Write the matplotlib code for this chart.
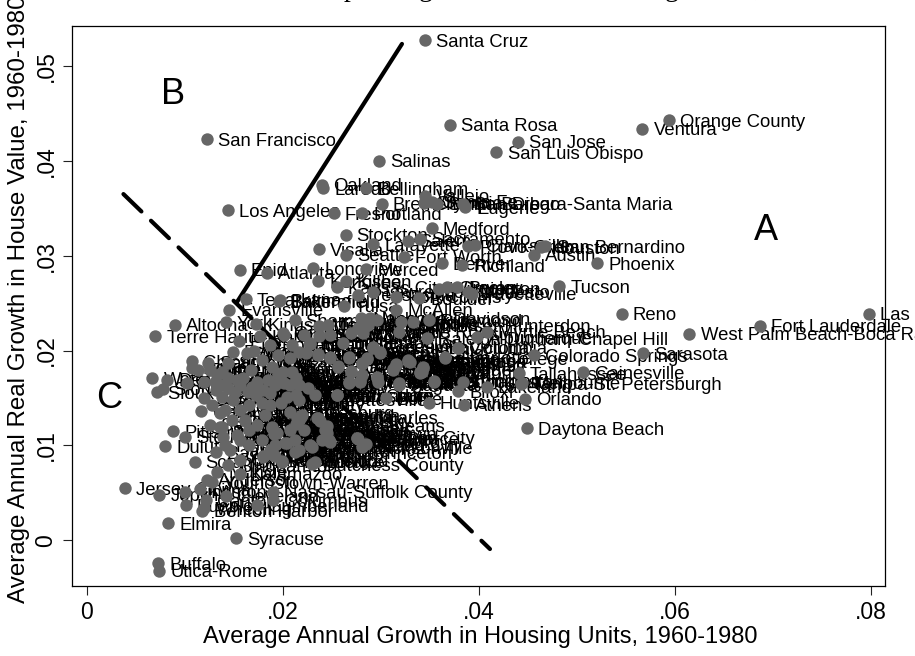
"""Real house value growth against housing unit growth by metro area, 1960-1980."""
import matplotlib
matplotlib.use("Agg")
import matplotlib.pyplot as plt

plt.rcParams["font.family"] = ["Liberation Sans", "DejaVu Sans"]

MSA_NAMES = [
    "Santa Cruz", "Orange County", "Ventura", "Santa Rosa", "San Jose", "San Luis Obispo",
    "San Francisco", "Salinas", "Oakland", "Laredo", "Bellingham", "Los Angeles",
    "Fresno", "Portland", "Bremerton", "Vallejo", "Olympia", "Santa Fe",
    "Santa Barbara-Santa Maria", "San Diego", "Eugene", "Medford", "Stockton", "Visalia",
    "Lafayette", "Seattle", "Fort Worth", "Salem", "Sacramento", "Denver",
    "Richland", "Provo-Orem", "Clarksville", "San Bernardino", "Houston", "Austin",
    "Phoenix", "Tucson", "Reno", "Las Vegas", "Fort Lauderdale", "West Palm Beach-Boca Raton",
    "Sarasota", "Colorado Springs", "Raleigh-Durham-Chapel Hill", "Gainesville", "Tallahassee", "Tampa-St. Petersburgh",
    "Orlando", "Daytona Beach", "Lakeland", "Athens", "Huntsville", "Melbourne",
    "Enid", "Atlanta", "Longview", "Merced", "Kenosha", "Kansas City",
    "Killeen", "Pensacola", "Lawrence", "Fort Collins", "Boulder", "Wilmington",
    "Greeley", "Bryan", "Fayetteville", "Modesto", "Texarkana", "Baltimore",
    "Bakersfield", "Tulsa", "McAllen", "Evansville", "York", "Altoona",
    "Terre Haute", "Kingsport", "Sherman", "Temple", "Nashville-Davidson", "Macon",
    "Newark", "Norfolk", "Mobile", "Richmond", "Middlesex-Somerset-Hunterdon", "Myrtle Beach",
    "Albuquerque", "Columbia", "Little Rock", "Greenville", "Wichita", "Charlotte",
    "Omaha", "Des Moines", "Fort Wayne", "Indianapolis", "Lexington", "Madison",
    "Lincoln", "Minneapolis", "Rochester", "Peoria", "Springfield", "Rockford",
    "Toledo", "Grand Rapids", "Milwaukee", "Cincinnati", "Louisville", "Birmingham",
    "Memphis", "Shreveport", "Baton Rouge", "Corpus Christi", "Savannah", "Tyler",
    "Waco", "Amarillo", "Lubbock", "Charleston", "Biloxi", "Harrisburg",
    "Boise", "Lansing", "Albany", "New Orleans", "Jacksonville", "Dutchess County",
    "Trenton-Princeton", "Johnson City", "Kalamazoo", "Youngstown-Warren", "Nassau-Suffolk County", "Columbus",
    "Benton Harbor", "Cumberland", "Cleveland", "Joplin", "Jersey City", "Kingston",
    "Pueblo", "Lima", "Anderson", "Muncie", "Canton", "Wheeling",
    "Worcester", "Lowell", "Providence", "Binghamton", "Elmira", "Syracuse",
    "Buffalo", "Utica-Rome", "Scranton", "Duluth", "Pittsburgh", "Steubenville",
    "Waterloo", "Sioux City", "Sioux Falls", "Decatur", "Chicago", "Detroit",
    "Flint", "Saginaw", "St. Louis", "Dayton", "Akron", "Philadelphia",
    "Erie", "Kankakee", "Green Bay", "Hamilton", "Reading", "Harrisonburg",
    "Davenport", "Dubuque", "Jackson", "Lancaster", "Bloomington", "Champaign",
    "Allentown", "Johnstown", "Cedar Rapids", "Muskegon", "Racine", "South Bend",
    "Kokomo", "Pittsfield", "New Haven", "Hartford", "Boston", "Bridgeport",
    "Stamford", "Danbury", "New London", "Tuscaloosa", "Montgomery", "Augusta",
    "Chattanooga", "Beaumont", "Vineland", "Atlantic City", "Monroe", "Alexandria",
    "Lake Charles", "Hagerstown", "Parkersburg", "Sharon", "Poughkeepsie", "Williamsport",
    "Mansfield", "Owensboro", "Sheboygan", "Appleton", "Gary", "Bay City",
    "Janesville", "Oshkosh", "Pine Bluff",
    "Abilene", "Anchorage", "Anniston", "Asheville", "Battle Creek", "Bangor",
    "Billings", "Bismarck", "Burlington", "Brownsville", "Casper", "Cheyenne",
    "Danville", "Dothan", "El Paso", "Elkhart", "Fargo", "Fall River",
    "Fitchburg", "Florence", "Fort Smith", "Gadsden", "Galveston", "Glens Falls",
    "Goldsboro", "Great Falls", "Greensboro", "Hickory", "Honolulu", "Houma",
    "Iowa City", "Jamestown", "Joliet", "La Crosse", "Lawton", "Lewiston",
    "Lynchburg", "Manchester", "Miami", "Midland", "Monmouth", "Nashua",
    "New Bedford", "New Britain", "Norwalk", "Odessa", "Oklahoma City", "Panama City",
    "Pawtucket", "Rocky Mount", "San Angelo", "San Antonio", "Spokane", "St. Cloud",
    "St. Joseph", "State College", "Sumter", "Topeka", "Victoria", "Washington",
    "Wausau", "Wichita Falls", "Yakima", "Charlottesville", "Eau Claire", "Hattiesburg",
    "Knoxville", "Lake County", "Las Cruces", "Dover", "Gulfport", "Greenwood",
    "Lorain", "Bethlehem", "Sandusky", "Benton", "Redding", "Fort Pierce",
    "Rapid City", "Roanoke", "Bergen-Passaic", "Portsmouth", "Ocala", "Bradenton",
    "Ann Arbor", "Yuba City",
]
HOUSING_UNIT_GROWTH = [
    .0345, .0594, .0567, .0371, .0440, .0418,
    .0123, .0298, .0240, .0241, .0285, .0144,
    .0252, .0281, .0301, .0345, .0344, .0352,
    .0357, .0384, .0386, .0352, .0264, .0237,
    .0292, .0265, .0324, .0328, .0340, .0362,
    .0383, .0389, .0396, .0468, .0463, .0456,
    .0521, .0482, .0546, .0798, .0687, .0615,
    .0568, .0456, .0347, .0506, .0441, .0443,
    .0447, .0449, .0408, .0385, .0349, .0444,
    .0156, .0184, .0231, .0285, .0236, .0255,
    .0264, .0277, .0292, .0316, .0339, .0359,
    .0368, .0378, .0393, .0389, .0162, .0197,
    .0196, .0262, .0316, .0145, .0142, .0090,
    .0070, .0173, .0212, .0246, .0280, .0289,
    .0296, .0321, .0333, .0349, .0237, .0408,
    .0398, .0379, .0319, .0292, .0299, .0366,
    .0201, .0237, .0248, .0261, .0270, .0277,
    .0282, .0287, .0228, .0209, .0236, .0248,
    .0268, .0256, .0286, .0281, .0270, .0268,
    .0279, .0296, .0312, .0316, .0328, .0343,
    .0340, .0319, .0354, .0384, .0379, .0255,
    .0305, .0235, .0219, .0245, .0281, .0230,
    .0212, .0276, .0156, .0128, .0190, .0190,
    .0118, .0174, .0142, .0074, .0039, .0100,
    .0101, .0116, .0123, .0133, .0122, .0120,
    .0180, .0190, .0199, .0144, .0083, .0152,
    .0073, .0074, .0110, .0080, .0088, .0100,
    .0067, .0072, .0078, .0082, .0107, .0107,
    .0113, .0124, .0144, .0149, .0163, .0171,
    .0155, .0177, .0200, .0168, .0189, .0224,
    .0102, .0120, .0133, .0132, .0138, .0149,
    .0153, .0156, .0169, .0185, .0200, .0213,
    .0201, .0173, .0187, .0179, .0198, .0204,
    .0213, .0226, .0233, .0281, .0297, .0319,
    .0330, .0342, .0276, .0228, .0215, .0220,
    .0236, .0245, .0248, .0240, .0189, .0194,
    .0202, .0161, .0136, .0136, .0117, .0132,
    .0146, .0139, .0153,
    .0126, .0131, .0138, .0144, .0151, .0159,
    .0164, .0174, .0180, .0192, .0195, .0207,
    .0209, .0217, .0236, .0248, .0256, .0268,
    .0270, .0281, .0292, .0296, .0286, .0299,
    .0312, .0316, .0328, .0222, .0228, .0187,
    .0195, .0179, .0207, .0217, .0141, .0148,
    .0156, .0166, .0174, .0182, .0192, .0207,
    .0212, .0222, .0166, .0179, .0156, .0187,
    .0217, .0141, .0126, .0120, .0128, .0144,
    .0138, .0366, .0343, .0340, .0379, .0354,
    .0268, .0279, .0319, .0217, .0255, .0207,
    .0187, .0166, .0156, .0230, .0204, .0199,
    .0233, .0247, .0238, .0217, .0213, .0277,
    .0285, .0243, .0189, .0191, .0180, .0192,
    .0161, .0138,
]
REAL_VALUE_GROWTH = [
    .0527, .0443, .0434, .0438, .0420, .0409,
    .0423, .0400, .0375, .0371, .0371, .0348,
    .0345, .0345, .0355, .0363, .0356, .0357,
    .0355, .0355, .0351, .0329, .0322, .0307,
    .0312, .0301, .0299, .0316, .0318, .0292,
    .0290, .0310, .0311, .0310, .0309, .0301,
    .0292, .0268, .0239, .0239, .0226, .0218,
    .0197, .0195, .0213, .0177, .0176, .0165,
    .0149, .0118, .0162, .0143, .0145, .0166,
    .0285, .0282, .0287, .0286, .0273, .0267,
    .0273, .0259, .0262, .0257, .0255, .0265,
    .0267, .0267, .0260, .0262, .0254, .0253,
    .0252, .0247, .0243, .0243, .0230, .0227,
    .0215, .0228, .0232, .0227, .0234, .0234,
    .0232, .0230, .0230, .0232, .0226, .0220,
    .0214, .0203, .0220, .0204, .0197, .0193,
    .0216, .0215, .0216, .0208, .0219, .0224,
    .0219, .0227, .0208, .0206, .0195, .0193,
    .0193, .0183, .0192, .0187, .0177, .0166,
    .0167, .0171, .0180, .0185, .0189, .0182,
    .0176, .0165, .0167, .0167, .0157, .0153,
    .0150, .0129, .0130, .0121, .0098, .0080,
    .0093, .0108, .0070, .0061, .0051, .0042,
    .0031, .0037, .0047, .0048, .0055, .0051,
    .0037, .0054, .0064, .0072, .0042, .0034,
    .0088, .0090, .0083, .0079, .0018, .0002,
    -.0024, -.0032, .0083, .0099, .0115, .0109,
    .0171, .0156, .0160, .0169, .0189, .0182,
    .0180, .0187, .0187, .0199, .0197, .0200,
    .0210, .0215, .0219, .0180, .0183, .0197,
    .0166, .0167, .0174, .0158, .0151, .0148,
    .0169, .0164, .0162, .0169, .0177, .0171,
    .0166, .0153, .0155, .0145, .0145, .0151,
    .0153, .0161, .0153, .0174, .0167, .0164,
    .0188, .0177, .0108, .0100, .0129, .0132,
    .0129, .0113, .0104, .0106, .0119, .0113,
    .0103, .0127, .0119, .0134, .0136, .0093,
    .0095, .0109, .0111,
    .0180, .0167, .0164, .0171, .0156, .0171,
    .0156, .0167, .0158, .0164, .0174, .0164,
    .0177, .0164, .0196, .0192, .0184, .0192,
    .0178, .0186, .0203, .0172, .0191, .0198,
    .0181, .0186, .0190, .0216, .0207, .0206,
    .0195, .0190, .0192, .0199, .0137, .0127,
    .0137, .0116, .0122, .0132, .0100, .0116,
    .0106, .0116, .0100, .0106, .0085, .0095,
    .0095, .0100, .0122, .0150, .0143, .0161,
    .0177, .0192, .0183, .0177, .0203, .0168,
    .0167, .0168, .0166, .0148, .0153, .0135,
    .0143, .0143, .0106, .0098, .0103, .0084,
    .0083, .0106, .0126, .0127, .0123, .0107,
    .0101, .0116, .0118, .0112, .0089, .0089,
    .0126, .0119,
]

# Supply elasticity boundaries (solid upper, dashed lower)
SOLID_X = [.01533, .03216]
SOLID_Y = [.02512, .05233]
DASHED_X = [.00374, .04114]
DASHED_Y = [.0365, -.00092]

REGION_NAMES = ["A", "B", "C"]
REGION_X = [.0693, .0088, .0023]
REGION_Y = [.0327, .0470, .0150]

X_TICKS = [0, .02, .04, .06, .08]
X_TICK_LABELS = ["0", ".02", ".04", ".06", ".08"]
Y_TICKS = [0, .01, .02, .03, .04, .05]
Y_TICK_LABELS = ["0", ".01", ".02", ".03", ".04", ".05"]

W, H = 915, 656
fig = plt.figure(figsize=(W / 100, H / 100), dpi=100)
ax = fig.add_axes([72 / W, 1 - 586 / H, (885 - 72) / W, (586 - 26) / H])
ax.set_xlim(-.00151, .08145)
ax.set_ylim(-.00482, .05422)

for name, gx, gy in zip(MSA_NAMES, HOUSING_UNIT_GROWTH, REAL_VALUE_GROWTH, strict=True):
    ax.annotate(name, (gx, gy), xytext=(8, 0), textcoords="offset points",
                fontsize=13.3, color="black", va="center_baseline", ha="left",
                annotation_clip=False, zorder=2)

ax.plot(SOLID_X, SOLID_Y, color="black", lw=3.0, zorder=3, solid_capstyle="round")
ax.plot(DASHED_X, DASHED_Y, color="black", lw=3.0, zorder=3,
        linestyle=(0, (6, 3.2)), dash_capstyle="round")
ax.scatter(HOUSING_UNIT_GROWTH, REAL_VALUE_GROWTH, s=80, color="#666666",
           linewidths=0, zorder=4)

for letter, rx, ry in zip(REGION_NAMES, REGION_X, REGION_Y):
    ax.text(rx, ry, letter, fontsize=26, ha="center", va="center", color="black", zorder=5)

ax.set_xticks(X_TICKS, X_TICK_LABELS, fontsize=16.5)
ax.set_yticks(Y_TICKS, Y_TICK_LABELS, fontsize=16.5, rotation=90, va="center")
ax.tick_params(axis="both", length=6.5, width=.8, pad=4, color="#222222")
for spine in ax.spines.values():
    spine.set_linewidth(.9)

fig.text(480 / W, 1 - 637 / H, "Average Annual Growth in Housing Units, 1960-1980",
         fontsize=17, ha="center", va="center", color="black")
fig.text(19 / W, 1 - 603 / H, "Average Annual Real Growth in House Value, 1960-1980",
         fontsize=17.4, rotation=90, ha="center", va="bottom", color="black")

# Only the descenders of the title survive the crop at the top edge
for glyph, px in zip(["p", "g", "g", ","], [351, 426, 672, 757]):
    fig.text(px / W, 1 + 4 / H, glyph, fontsize=20, family="Liberation Serif",
             ha="center", va="baseline")

fig.savefig("out.png", dpi=100)
plt.close(fig)
